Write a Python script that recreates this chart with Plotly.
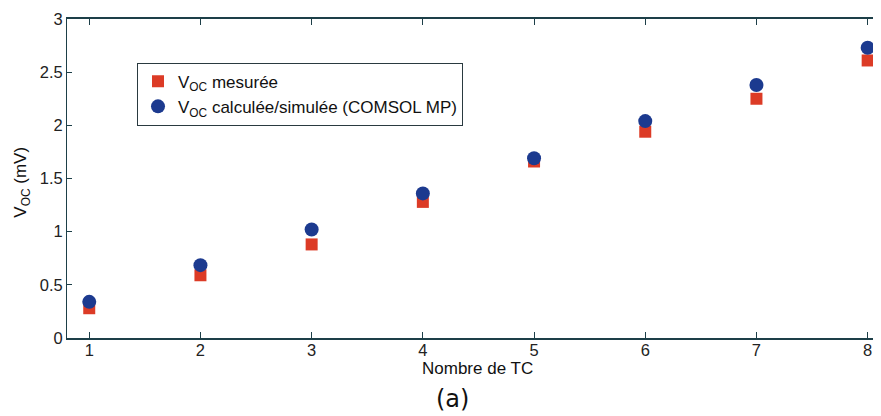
import plotly.graph_objects as go

nb_tc = [1, 2, 3, 4, 5, 6, 7, 8]
voc_mesuree = [0.28, 0.59, 0.88, 1.28, 1.66, 1.94, 2.25, 2.61]
voc_calculee = [0.34, 0.685, 1.02, 1.36, 1.69, 2.04, 2.38, 2.73]
y_ticks = [0, 0.5, 1, 1.5, 2, 2.5, 3]
y_ticklabels = ["0", "0.5", "1", "1.5", "2", "2.5", "3"]

font_family = "Liberation Sans, Arial, sans-serif"
axis_color = "#1d3f48"

fig = go.Figure()
fig.add_trace(go.Scatter(
    x=nb_tc, y=voc_mesuree, mode="markers",
    name="V<sub>OC</sub> mesurée",
    marker=dict(symbol="square", size=12, color="#dc3b26",
                line=dict(width=0)),
))
fig.add_trace(go.Scatter(
    x=nb_tc, y=voc_calculee, mode="markers",
    name="V<sub>OC</sub> calculée/simulée (COMSOL MP)",
    marker=dict(symbol="circle", size=14, color="#1c3a8f",
                line=dict(width=0)),
))

fig.update_layout(
    width=873, height=408,
    margin=dict(l=59, r=0, t=11, b=78),
    paper_bgcolor="white", plot_bgcolor="white",
    font=dict(family=font_family, size=16, color="#222"),
    showlegend=True,
    legend=dict(
        x=0.086, y=0.863, xanchor="left", yanchor="top",
        bgcolor="white", bordercolor="#2a3a40", borderwidth=1,
        font=dict(family=font_family, size=17, color="#111"),
        tracegroupgap=2,
    ),
    xaxis=dict(
        range=[0.8, 8.12], tickmode="array", tickvals=nb_tc,
        ticktext=[str(v) for v in nb_tc],
        ticks="inside", ticklen=6, tickcolor=axis_color,
        showline=True, linecolor=axis_color, linewidth=1.5,
        mirror="ticks", showgrid=False, zeroline=False,
        ticklabelstandoff=-4,
        tickfont=dict(size=16.5, color="#222"),
    ),
    yaxis=dict(
        range=[0, 3], tickmode="array", tickvals=y_ticks,
        ticktext=y_ticklabels,
        ticks="inside", ticklen=5, tickcolor=axis_color,
        showline=True, linecolor=axis_color, linewidth=1,
        mirror=False, showgrid=False, zeroline=False,
        tickfont=dict(size=16.5, color="#222"),
    ),
    annotations=[
        dict(text="Nombre de TC", xref="paper", yref="paper",
             x=0.504, y=-0.096, xanchor="center", yanchor="middle",
             showarrow=False, font=dict(size=17, color="#111")),
        dict(text="V<sub>OC</sub> (mV)", xref="paper", yref="paper",
             x=-0.0553, y=0.49, xanchor="center", yanchor="middle",
             textangle=-90, showarrow=False,
             font=dict(size=17, color="#111")),
        dict(text="(a)", xref="paper", yref="paper",
             x=0.473, y=-0.19, xanchor="center", yanchor="middle",
             showarrow=False,
             font=dict(family="DejaVu Sans, sans-serif", size=24, color="#111")),
    ],
)

fig.write_html("out.html")
